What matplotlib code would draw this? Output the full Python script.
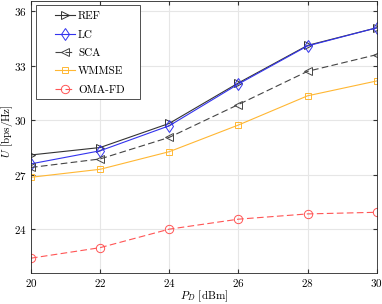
import matplotlib
matplotlib.use("Agg")
import matplotlib.pyplot as plt
from matplotlib.patches import Rectangle

plt.rcParams.update({
    "font.family": "serif",
    "font.serif": ["cmr10"],
    "mathtext.fontset": "cm",
    "axes.formatter.use_mathtext": True,
    "font.size": 8,
})

x = [20, 22, 24, 26, 28, 30]
ref = [28.09, 28.50, 29.83, 32.06, 34.13, 35.10]
lc = [27.60, 28.32, 29.70, 32.00, 34.10, 35.10]
sca = [27.40, 27.87, 29.06, 30.87, 32.70, 33.62]
wmmse = [26.86, 27.30, 28.27, 29.74, 31.35, 32.17]
omafd = [22.40, 22.98, 24.00, 24.55, 24.84, 24.93]
xticks = [20, 22, 24, 26, 28, 30]
yticks = [24, 27, 30, 33, 36]

fig = plt.figure(figsize=(3.82, 3.04), dpi=100)
ax = fig.add_axes([0.081, 0.103, 0.905, 0.895])

lw = 0.8
ms = 6
ax.plot(x, ref, color="#333333", ls="-", lw=lw, marker=">", ms=ms, mfc="none", mew=0.7, label="REF")
ax.plot(x, lc, color="#3333ee", ls="-", lw=lw, marker="d", ms=ms, mfc="none", mew=0.7, label="LC")
ax.plot(x, sca, color="#444444", ls=(0, (6, 3)), lw=lw, marker="<", ms=ms, mfc="none", mew=0.7, label="SCA")
ax.plot(x, wmmse, color="#ffb733", ls="-", lw=lw, marker="s", ms=5, mfc="none", mew=0.7, label="WMMSE")
ax.plot(x, omafd, color="#ff5555", ls=(0, (6, 3)), lw=lw, marker="o", ms=6, mfc="none", mew=0.7, label="OMA-FD")

ax.set_xlim(20, 30)
ax.set_ylim(21.6, 36.6)
ax.set_xticks(xticks)
ax.set_yticks(yticks)
ax.grid(True, color="#e6e6e6", lw=0.8)
ax.set_axisbelow(True)
ax.tick_params(direction="in", length=3, color="#333333", top=True, right=True, labelsize=8, pad=3)
for s in ax.spines.values():
    s.set_color("#262626")
    s.set_linewidth(0.6)

ax.set_xlabel(r"$P_D$ [dBm]", fontsize=8)
ax.set_ylabel(r"$U$ [bps/Hz]", fontsize=8)
ax.xaxis.set_label_coords(0.5, -0.058)
ax.yaxis.set_label_coords(-0.047, 0.52)

# legend box (MATLAB style, wide horizontal padding)
ax.add_patch(Rectangle((0.0145, 0.637), 0.30, 0.346, transform=ax.transAxes,
                       facecolor="white", edgecolor="#333333", lw=0.6, zorder=4))
leg = ax.legend(loc="upper left", bbox_to_anchor=(0.069, 0.96), fontsize=8, frameon=False,
                handlelength=1.8, labelspacing=0.77, borderpad=0.0, handletextpad=0.3,
                borderaxespad=0.0)
leg.set_zorder(5)

fig.savefig("out.png", dpi=100)
